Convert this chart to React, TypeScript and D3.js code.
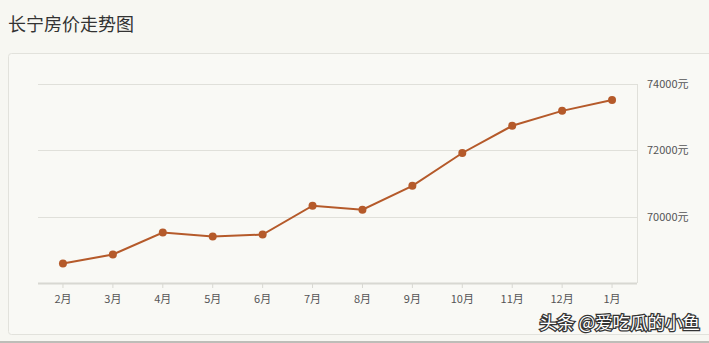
import React from "react";
import * as d3 from "d3";

const months = ["2月", "3月", "4月", "5月", "6月", "7月", "8月", "9月", "10月", "11月", "12月", "1月"];
const prices = [68590, 68860, 69520, 69400, 69460, 70330, 70210, 70930, 71920, 72740, 73190, 73520];
const yTicks = [70000, 72000, 74000];

const W = 709;
const H = 343;
const left = 38;
const right = 637;
const top = 84;
const bottom = 283;

export default function App() {
  const x = d3.scaleBand<string>().domain(months).range([left, right]);
  const y = d3.scaleLinear().domain([68000, 74000]).range([bottom, top]);
  const line = d3
    .line<number>()
    .x((_, i) => (x(months[i]) as number) + x.bandwidth() / 2)
    .y((d) => y(d));
  const font = "'Noto Sans CJK SC', 'Noto Sans', sans-serif";
  return (
    <svg
      width={W}
      height={H}
      style={{ position: "absolute", left: 0, top: 0, display: "block" }}
      fontFamily={font}
    >
      <rect x={0} y={0} width={W} height={H} fill="#f7f7f2" />
      <text x={8} y={31} fontSize={18} fill="#333">长宁房价走势图</text>
      <rect x={8.5} y={53.5} width={720} height={281} rx={3} fill="#f9f9f5" stroke="#e2e2dc" />
      <line x1={0} x2={W} y1={342} y2={342} stroke="#bdbdb8" strokeWidth={2} />
      {yTicks.map((t) => (
        <g key={t}>
          <line x1={left} x2={right} y1={Math.round(y(t)) + 0.5} y2={Math.round(y(t)) + 0.5} stroke="#e0e0da" />
          <text x={647} y={y(t) + 4} fontSize={11} fill="#555">{t}元</text>
        </g>
      ))}
      <line x1={right + 0.5} x2={right + 0.5} y1={top} y2={bottom} stroke="#e0e0da" />
      <line x1={left} x2={right} y1={bottom + 0.5} y2={bottom + 0.5} stroke="#d8d8d2" strokeWidth={2} />
      {months.map((m) => {
        const cx = (x(m) as number) + x.bandwidth() / 2;
        return (
          <g key={m}>
            <line x1={cx} x2={cx} y1={bottom + 1} y2={bottom + 5} stroke="#d8d8d2" />
            <text x={cx} y={303} fontSize={11} fill="#555" textAnchor="middle">{m}</text>
          </g>
        );
      })}
      <path d={line(prices) || ""} fill="none" stroke="#b55a2a" strokeWidth={2} />
      {prices.map((p, i) => (
        <circle
          key={i}
          cx={(x(months[i]) as number) + x.bandwidth() / 2}
          cy={y(p)}
          r={4}
          fill="#b55a2a"
        />
      ))}
      <text
        x={700}
        y={329}
        fontSize={17.5}
        textAnchor="end"
        fill="#fff"
        stroke="#333"
        strokeWidth={2.5}
        paintOrder="stroke"
      >
        头条 @爱吃瓜的小鱼
      </text>
    </svg>
  );
}
